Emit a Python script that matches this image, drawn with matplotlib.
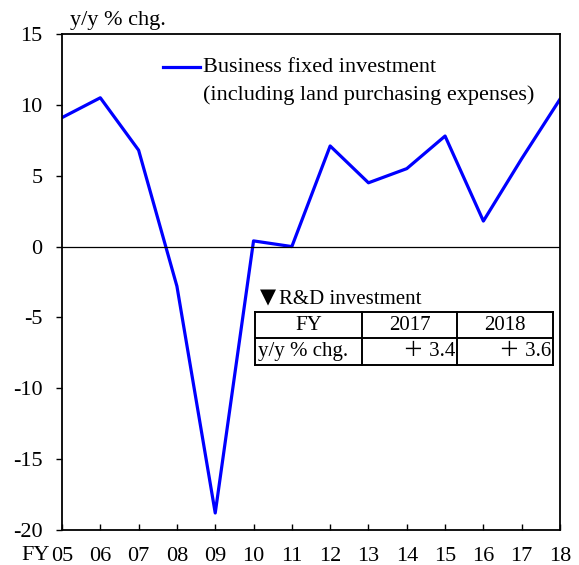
import matplotlib.pyplot as plt
from matplotlib.lines import Line2D

plt.rcParams['font.family'] = ['Liberation Serif', 'Noto Sans CJK JP', 'DejaVu Sans']
plt.rcParams['axes.unicode_minus'] = False

years = ['05', '06', '07', '08', '09', '10', '11', '12', '13', '14', '15', '16', '17', '18']
capex = [9.1, 10.5, 6.8, -2.8, -18.8, 0.4, 0.0, 7.1, 4.5, 5.5, 7.8, 1.8, 6.2, 10.4]
series_name = ['Business fixed investment', '(including land purchasing expenses)']

rd_years = ['2017', '2018']
rd_values = ['＋ 3.4', '＋ 3.6']

W, H = 579, 565
FS = 16
fig = plt.figure(figsize=(W / 100, H / 100), dpi=100)
ax = fig.add_axes([62 / W, 1 - 530 / H, (560 - 62) / W, (530 - 34) / H])

x = list(range(len(years)))
ax.plot(x, capex, color='#0000ff', lw=2.3)
ax.axhline(0, color='black', lw=0.9)

ax.set_xlim(0, len(years) - 1)
ax.set_ylim(-20, 15)
ax.set_yticks(range(-20, 16, 5))
ax.set_xticks(x)
ax.set_xticklabels(years)
ax.tick_params(axis='x', direction='in', length=4.5, labelsize=FS, pad=12, width=1)
ax.tick_params(axis='y', direction='out', length=4.5, labelsize=FS, pad=9.5, width=1)
for s in ax.spines.values():
    s.set_linewidth(1.3)


def px(xp, yp):
    return xp / W, 1 - yp / H


fig.text(*px(50, 555), 'FY', fontsize=FS, ha='right', va='center')
fig.text(*px(70, 20), 'y/y % chg.', fontsize=FS, va='center', ha='left')

# legend-like key, drawn by hand so the line sits on the first text row
fig.add_artist(Line2D([163 / W, 200 / W], [1 - 67 / H, 1 - 67 / H], color='#0000ff', lw=2.3))
fig.text(*px(203, 67), series_name[0], fontsize=FS, ha='left', va='center')
fig.text(*px(203, 95), series_name[1], fontsize=FS, ha='left', va='center')

# R&D table drawn in pixel coordinates
cols = [255, 362, 457, 553]
rows = [312, 338, 365]
for c in cols:
    fig.add_artist(Line2D([c / W, c / W], [1 - rows[0] / H, 1 - rows[-1] / H], color='black', lw=1.4))
for r in rows:
    fig.add_artist(Line2D([cols[0] / W, cols[-1] / W], [1 - r / H, 1 - r / H], color='black', lw=1.4))

TS = 15
fig.text(*px(260, 297), '▼', fontsize=15, va='center', ha='left', family=['DejaVu Sans'])
fig.text(*px(279, 300), 'R&D investment', fontsize=TS, va='center', ha='left')
r1 = (rows[0] + rows[1]) / 2
r2 = (rows[1] + rows[2]) / 2
fig.text(*px((cols[0] + cols[1]) / 2, r1), 'FY', fontsize=TS, ha='center', va='center')
fig.text(*px(258, r2), 'y/y % chg.', fontsize=TS, ha='left', va='center')
for i in range(2):
    fig.text(*px((cols[i + 1] + cols[i + 2]) / 2, r1), rd_years[i], fontsize=TS, ha='center', va='center')
    fig.text(*px(cols[i + 2] - 2, r2), rd_values[i], fontsize=TS, ha='right', va='center')

fig.savefig('out.png', dpi=100)
